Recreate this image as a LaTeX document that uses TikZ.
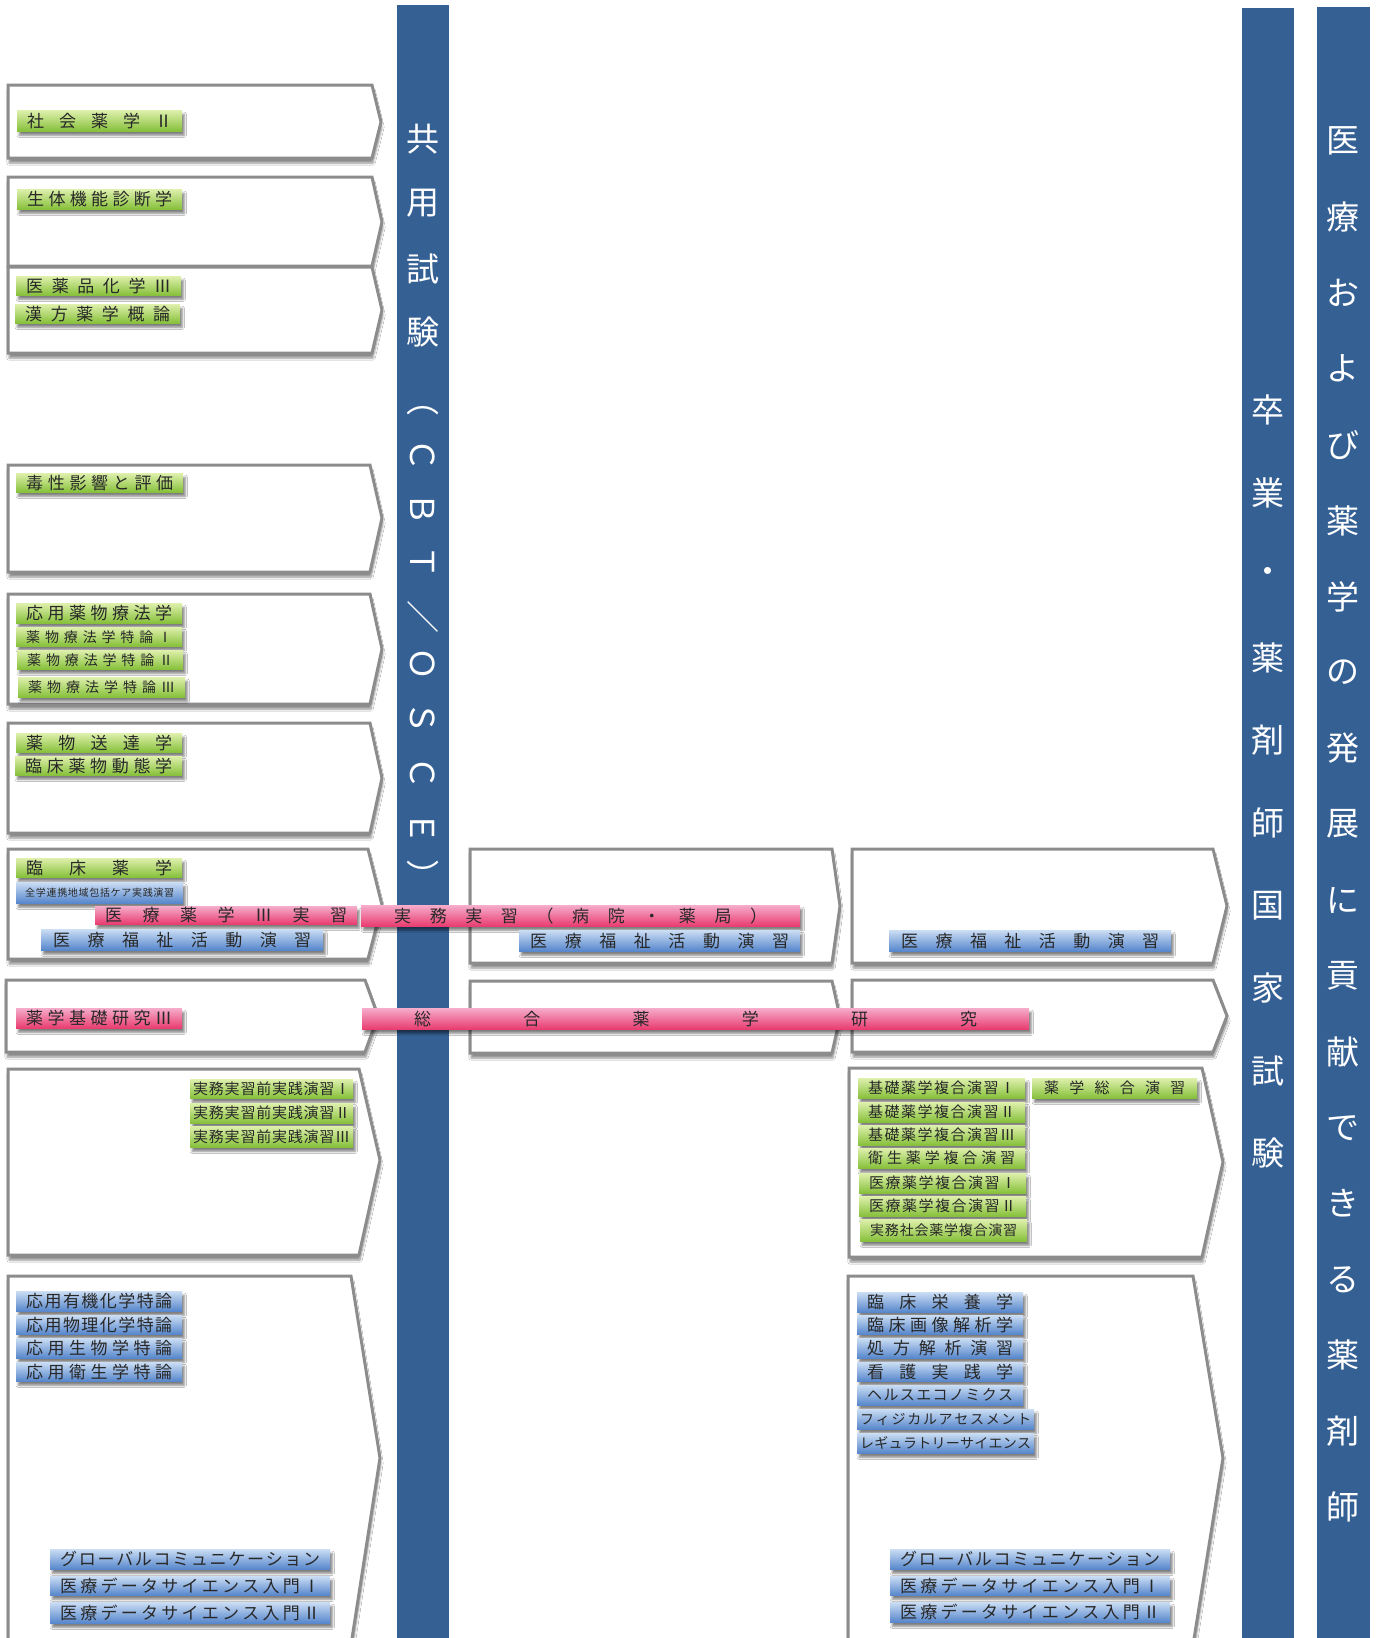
\documentclass[tikz,border=0pt]{standalone}
\usepackage{fontspec}
\setmainfont{Noto Sans CJK JP}
\usetikzlibrary{shadows.blur}

\definecolor{barblue}{RGB}{53,96,148}
\definecolor{boxgray}{RGB}{140,140,140}
\definecolor{greentop}{RGB}{222,240,172}
\definecolor{greenbot}{RGB}{134,192,58}
\definecolor{bluetop}{RGB}{202,221,244}
\definecolor{bluebot}{RGB}{86,134,204}
\definecolor{pinktop}{RGB}{245,172,202}
\definecolor{pinkbot}{RGB}{233,60,112}
\definecolor{labeltext}{RGB}{40,40,40}

% spread the characters of a label over its box
\def\spreadchars#1{\spreadfirst#1\relax}
\def\spreadfirst#1{\ifx\relax#1\else#1\expandafter\spreadnext\fi}
\def\spreadnext#1{\ifx\relax#1\else\hfill#1\expandafter\spreadnext\fi}

% [pad]{style}{name}{x1}{y1}{x2}{y2}{text}
\newcommand\course[8][10]{%
  \pgfmathsetmacro\coursewd{#6-#4-2*#1}%
  \pgfmathsetmacro\courseht{#7-#5}%
  \node[#2, anchor=north west, inner xsep=#1pt, minimum height=\courseht pt]
    (#3) at (#4,#5) {\hbox to \coursewd pt{\spreadchars{#8}}};}

% {x1}{y1}{x2}{y2}{tip x}{tip y}
\newcommand\stage[6]{%
  \draw[stagebox] (#1,#2) -- (#3,#2) -- (#5,#6) -- (#3,#4) -- (#1,#4) -- cycle;}

\tikzset{
  stagebox/.style={draw=boxgray, line width=3pt, fill=white, line join=miter,
    blur shadow={shadow xshift=1pt, shadow yshift=-5pt, shadow blur steps=6, shadow opacity=45}},
  examband/.style={fill=barblue},
  bandtext/.style={text=white, font=\fontsize{33}{33}\selectfont, inner sep=0pt},
  course/.style={inner ysep=0pt, text=labeltext, font=\fontsize{17}{17}\selectfont,
    blur shadow={shadow xshift=2pt, shadow yshift=-4pt, shadow blur steps=4, shadow opacity=50}},
  greencourse/.style={course, top color=greentop, bottom color=greenbot},
  bluecourse/.style={course, top color=bluetop, bottom color=bluebot},
  pinkcourse/.style={course, top color=pinktop, bottom color=pinkbot},
  fmid/.style={font=\fontsize{15}{15}\selectfont},
  fsmall/.style={font=\fontsize{14}{14}\selectfont},
  ftiny/.style={font=\fontsize{10}{10}\selectfont},
}

\begin{document}
\begin{tikzpicture}[x=1pt,y=-1pt]
  \useasboundingbox[fill=white] (0,0) rectangle (1396,1638);
  \clip (0,0) rectangle (1396,1638);

  % year boxes
  \stage{8}{85}{372}{158}{381}{122}
  \stage{8}{177}{372}{266}{382}{222}
  \stage{8}{267}{372}{353}{382}{310}
  \stage{8}{465}{370}{572}{382}{518}
  \stage{8}{594}{370}{704}{382}{649}
  \stage{8}{723}{370}{833}{382}{778}
  \stage{8}{849}{368}{959}{382}{905}
  \stage{6}{980}{365}{1052}{378}{1016}
  \stage{8}{1069}{359}{1255}{380}{1160}
  \stage{8}{1276}{351}{1645}{380}{1458}
  \stage{470}{849}{832}{963}{840}{906}
  \stage{470}{981}{832}{1053}{840}{1017}
  \stage{852}{849}{1213}{963}{1227}{906}
  \stage{852}{980}{1213}{1052}{1227}{1016}
  \stage{849}{1068}{1202}{1257}{1223}{1162}
  \stage{848}{1276}{1193}{1645}{1223}{1458}

  % exam bands
  \fill[examband] (397,5) rectangle (449,1645);
  \fill[examband] (1242,8) rectangle (1294,1645);
  \fill[examband] (1317,7) rectangle (1370,1645);

  \foreach \ch/\yy/\rot [count=\i] in {共/139/0, 用/203/0, 試/269/0, 験/332/0,
      （/400/-90, Ｃ/455/-90, Ｂ/509/-90, Ｔ/562/-90, ／/617/-90,
      Ｏ/664/-90, Ｓ/718/-90, Ｃ/773/-90, Ｅ/828/-90, ）/876/-90}
    \node[bandtext, rotate=\rot] (kyoyo\i) at (423,\yy) {\ch};
  \foreach \ch [count=\i] in {卒,業,・,薬,剤,師,国,家,試,験}
    \node[bandtext] (kokushi\i) at (1268,{410+(\i-1)*82.6}) {\ch};
  \foreach \ch [count=\i] in {医,療,お,よ,び,薬,学,の,発,展,に,貢,献,で,き,る,薬,剤,師}
    \node[bandtext] (goal\i) at (1343,{141+(\i-1)*75.9}) {\ch};

  % courses, left column
  \course{greencourse}{shakai}{17}{110}{182}{131}{社会薬学Ⅱ}
  \course{greencourse}{seitai}{17}{189}{182}{209}{生体機能診断学}
  \course{greencourse}{iyakuhin}{16}{276}{181}{295}{医薬品化学Ⅲ}
  \course{greencourse}{kanpo}{15}{304}{180}{323}{漢方薬学概論}
  \course{greencourse}{dokusei}{16}{473}{183}{492}{毒性影響と評価}
  \course{greencourse}{oyoyaku}{16}{603}{182}{623}{応用薬物療法学}
  \course{greencourse,fsmall}{tokuron1}{16}{627}{182}{646}{薬物療法学特論Ⅰ}
  \course{greencourse,fsmall}{tokuron2}{17}{650}{183}{669}{薬物療法学特論Ⅱ}
  \course{greencourse,fsmall}{tokuron3}{18}{677}{185}{697}{薬物療法学特論Ⅲ}
  \course{greencourse}{sotatsu}{16}{733}{182}{752}{薬物送達学}
  \course{greencourse}{dotai}{15}{756}{182}{775}{臨床薬物動態学}
  \course{greencourse}{rinsho}{16}{858}{182}{877}{臨床薬学}
  \course[9]{bluecourse,ftiny}{chiiki}{16}{882}{183}{903}{全学連携地域包括ケア実践演習}
  \course{pinkcourse}{jisshu}{95}{906}{357}{924}{医療薬学Ⅲ実習}
  \course[33]{pinkcourse}{jitsumu}{361}{905}{800}{926}{実務実習（病院・薬局）}
  \course[12]{bluecourse}{fukushiA}{41}{929}{323}{950}{医療福祉活動演習}
  \course[11]{bluecourse}{fukushiB}{519}{930}{800}{951}{医療福祉活動演習}
  \course[12]{bluecourse}{fukushiC}{889}{930}{1171}{951}{医療福祉活動演習}
  \course{pinkcourse}{kiso}{16}{1008}{182}{1028}{薬学基礎研究Ⅲ}
  \course[52]{pinkcourse}{sogo}{362}{1008}{1029}{1029}{総合薬学研究}
  \course[3]{greencourse,fmid}{zenjissen1}{190}{1079}{353}{1098}{実務実習前実践演習Ⅰ}
  \course[3]{greencourse,fmid}{zenjissen2}{190}{1103}{353}{1123}{実務実習前実践演習Ⅱ}
  \course[3]{greencourse,fmid}{zenjissen3}{190}{1126}{353}{1147}{実務実習前実践演習Ⅲ}
  \course{bluecourse}{yuki}{16}{1291}{182}{1311}{応用有機化学特論}
  \course{bluecourse}{butsuri}{16}{1315}{182}{1334}{応用物理化学特論}
  \course{bluecourse}{seibutsu}{16}{1338}{182}{1358}{応用生物学特論}
  \course{bluecourse}{eisei}{16}{1362}{182}{1381}{応用衛生学特論}
  \course{bluecourse}{globalA}{50}{1549}{330}{1569}{グローバルコミュニケーション}
  \course{bluecourse}{dataA1}{50}{1576}{330}{1595}{医療データサイエンス入門Ⅰ}
  \course{bluecourse}{dataA2}{50}{1602}{330}{1623}{医療データサイエンス入門Ⅱ}

  % courses, right column
  \course{greencourse,fmid}{kisofuku1}{858}{1078}{1025}{1098}{基礎薬学複合演習Ⅰ}
  \course{greencourse,fmid}{kisofuku2}{858}{1102}{1025}{1122}{基礎薬学複合演習Ⅱ}
  \course{greencourse,fmid}{kisofuku3}{858}{1125}{1025}{1145}{基礎薬学複合演習Ⅲ}
  \course{greencourse,fmid}{eiseifuku}{858}{1148}{1025}{1168}{衛生薬学複合演習}
  \course{greencourse,fmid}{iryofuku1}{859}{1173}{1026}{1193}{医療薬学複合演習Ⅰ}
  \course{greencourse,fmid}{iryofuku2}{859}{1196}{1026}{1216}{医療薬学複合演習Ⅱ}
  \course{greencourse,fsmall}{shakaifuku}{860}{1219}{1027}{1241}{実務社会薬学複合演習}
  \course[12]{greencourse,fmid}{sogoenshu}{1032}{1078}{1197}{1098}{薬学総合演習}
  \course{bluecourse}{eiyo}{857}{1292}{1023}{1312}{臨床栄養学}
  \course{bluecourse}{gazo}{857}{1315}{1023}{1334}{臨床画像解析学}
  \course{bluecourse}{shoho}{857}{1338}{1023}{1358}{処方解析演習}
  \course{bluecourse}{kango}{857}{1362}{1023}{1381}{看護実践学}
  \course{bluecourse,fmid}{health}{857}{1385}{1023}{1405}{ヘルスエコノミクス}
  \course[3]{bluecourse,fsmall}{physical}{857}{1409}{1034}{1429}{フィジカルアセスメント}
  \course[3]{bluecourse,fsmall}{regulatory}{857}{1433}{1034}{1453}{レギュラトリーサイエンス}
  \course{bluecourse}{globalB}{890}{1549}{1170}{1569}{グローバルコミュニケーション}
  \course{bluecourse}{dataB1}{890}{1576}{1170}{1595}{医療データサイエンス入門Ⅰ}
  \course{bluecourse}{dataB2}{890}{1602}{1170}{1622}{医療データサイエンス入門Ⅱ}
\end{tikzpicture}
\end{document}
